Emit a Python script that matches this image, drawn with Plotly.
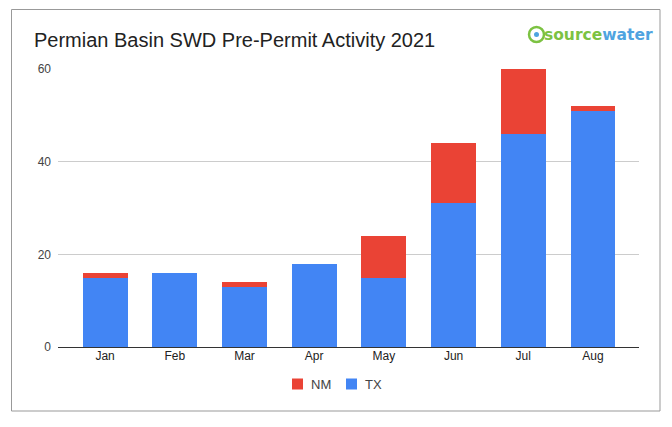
import plotly.graph_objects as go

months = ["Jan", "Feb", "Mar", "Apr", "May", "Jun", "Jul", "Aug"]
tx = [15, 16, 13, 18, 15, 31, 46, 51]
nm = [1, 0, 1, 0, 9, 13, 14, 1]
y_ticks = [0, 20, 40, 60]

TX_COLOR = "#4285F4"
NM_COLOR = "#EA4335"

W, H = 672, 427
L, R, T, B = 58, 639, 69, 347

def px(x):
    return (x - L) / (R - L)

def py(y):
    return (B - y) / (B - T)

fig = go.Figure()
fig.add_trace(go.Bar(x=list(range(len(months))), y=tx, name="TX",
                     marker=dict(color=TX_COLOR, line=dict(width=0)), width=0.645))
fig.add_trace(go.Bar(x=list(range(len(months))), y=nm, name="NM",
                     marker=dict(color=NM_COLOR, line=dict(width=0)), width=0.645))

fig.update_layout(
    width=W, height=H,
    margin=dict(l=L, r=W - R, t=T, b=H - B),
    barmode="stack",
    paper_bgcolor="white", plot_bgcolor="white",
    font=dict(family="Liberation Sans, Arial, sans-serif", size=12, color="#444444"),
    showlegend=False,
    xaxis=dict(tickmode="array", tickvals=list(range(len(months))), ticktext=months,
               range=[-0.675, 7.66], showgrid=False, showline=False, zeroline=False,
               ticks="", tickfont=dict(size=12, color="#222222")),
    yaxis=dict(range=[0, 60], tickvals=y_ticks, showgrid=True, gridcolor="#cccccc",
               zeroline=True, zerolinecolor="#333333", zerolinewidth=1,
               showline=False, ticks="", tickfont=dict(size=12, color="#444444"),
               ticklabelstandoff=6),
    bargap=0,
)

# Outer border
fig.add_shape(type="rect", xref="paper", yref="paper",
              x0=px(11.5), x1=px(660), y0=py(9.5), y1=py(411),
              line=dict(color="#999999", width=1), fillcolor="rgba(0,0,0,0)", layer="below")

# Custom legend (compact, like Google Charts)
for name, color, sx in [("NM", NM_COLOR, 292), ("TX", TX_COLOR, 346)]:
    fig.add_shape(type="rect", xref="paper", yref="paper",
                  x0=px(sx), x1=px(sx + 11), y0=py(378.5), y1=py(389.5),
                  line=dict(width=0), fillcolor=color)
    fig.add_annotation(text=name, xref="paper", yref="paper", x=px(sx + 17), y=py(384),
                       xanchor="left", yanchor="middle", showarrow=False,
                       font=dict(size=13, color="#444444"))

# Title
fig.add_annotation(text="Permian Basin SWD Pre-Permit Activity 2021", xref="paper", yref="paper",
                   x=px(32), y=py(40), xanchor="left", yanchor="middle", showarrow=False,
                   font=dict(size=20, color="#222222", family="Liberation Sans, Arial, sans-serif"))

# Logo
fig.add_shape(type="circle", xref="paper", yref="paper",
              x0=px(529), x1=px(544), y0=py(27), y1=py(42),
              line=dict(color="#7CC242", width=2.5), fillcolor="rgba(0,0,0,0)")
fig.add_shape(type="circle", xref="paper", yref="paper",
              x0=px(534), x1=px(539), y0=py(32), y1=py(37),
              line=dict(color="#4FA3E0", width=0), fillcolor="#4FA3E0")
fig.add_annotation(text="<b><span style='color:#7CC242'>source</span><span style='color:#4FA3E0'>water</span></b>",
                   xref="paper", yref="paper", x=px(542), y=py(34.5), xanchor="left", yanchor="middle",
                   showarrow=False, font=dict(size=15.5, family="DejaVu Sans, sans-serif"))

fig.write_html("out.html")
